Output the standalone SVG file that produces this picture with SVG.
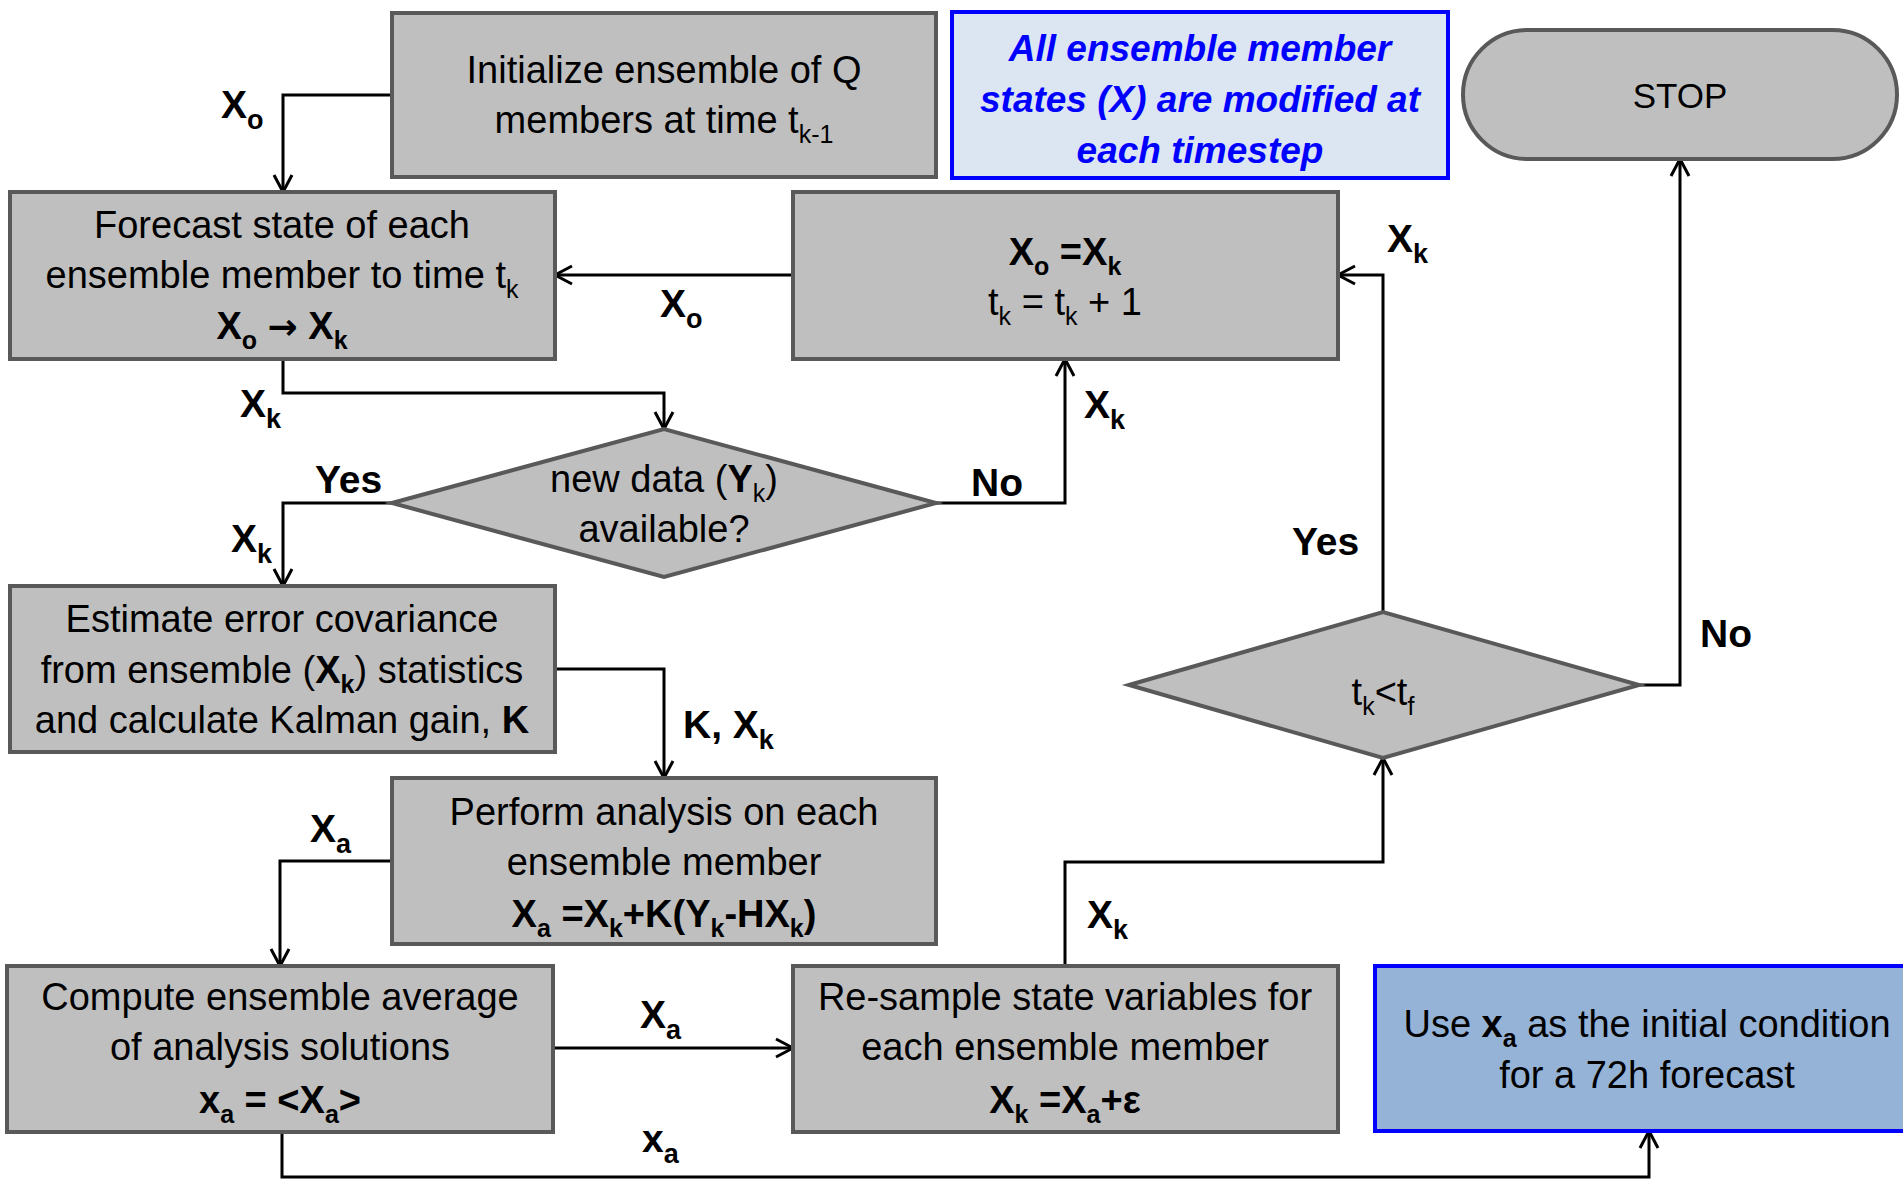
<svg xmlns="http://www.w3.org/2000/svg" width="1903" height="1182" viewBox="0 0 1903 1182">
<style>
.box{fill:#BFBFBF;stroke:#595959;stroke-width:4}
.t{font-family:"Liberation Sans",Arial,sans-serif;font-size:38px;fill:#000;text-anchor:middle}
.b{font-weight:bold}
.s{font-size:25px}
.ls{font-size:27px}
.lbl{font-family:"Liberation Sans",Arial,sans-serif;font-size:39px;font-weight:bold;fill:#000}
.note{font-family:"Liberation Sans",Arial,sans-serif;font-size:37px;font-weight:bold;font-style:italic;fill:#0000FF;text-anchor:middle}
.conn{fill:none;stroke:#000;stroke-width:3}
</style>
<defs>
<marker id="arr" markerUnits="userSpaceOnUse" markerWidth="24" markerHeight="24" viewBox="0 0 24 24" refX="19" refY="12" orient="auto">
<path d="M2,3 L19,12 L2,21" fill="none" stroke="#000" stroke-width="3"/>
</marker>
</defs>
<rect width="1903" height="1182" fill="#fff"/>

<g id="connectors">
<path class="conn" d="M392,95 H283 V192" marker-end="url(#arr)"/>
<path class="conn" d="M793,275 H555" marker-end="url(#arr)"/>
<path class="conn" d="M283,359 V393 H664 V429" marker-end="url(#arr)"/>
<path class="conn" d="M392,503 H283 V586" marker-end="url(#arr)"/>
<path class="conn" d="M936,503 H1065 V359" marker-end="url(#arr)"/>
<path class="conn" d="M555,669 H664 V778" marker-end="url(#arr)"/>
<path class="conn" d="M392,861 H280 V966" marker-end="url(#arr)"/>
<path class="conn" d="M553,1048 H793" marker-end="url(#arr)"/>
<path class="conn" d="M282,1132 V1177 H1649 V1131" marker-end="url(#arr)"/>
<path class="conn" d="M1065,966 V862 H1383 V758" marker-end="url(#arr)"/>
<path class="conn" d="M1383,612 V275 H1338" marker-end="url(#arr)"/>
<path class="conn" d="M1639,685 H1680 V159" marker-end="url(#arr)"/>
</g>

<g id="labels">
<text class="lbl" x="221" y="118">X<tspan class="ls" dy="11">o</tspan></text>
<text class="lbl" x="660" y="317">X<tspan class="ls" dy="11">o</tspan></text>
<text class="lbl" x="240" y="417">X<tspan class="ls" dy="11">k</tspan></text>
<text class="lbl" x="315" y="493">Yes</text>
<text class="lbl" x="231" y="552">X<tspan class="ls" dy="11">k</tspan></text>
<text class="lbl" x="971" y="496">No</text>
<text class="lbl" x="1084" y="418">X<tspan class="ls" dy="11">k</tspan></text>
<text class="lbl" x="1387" y="252">X<tspan class="ls" dy="11">k</tspan></text>
<text class="lbl" x="1292" y="555">Yes</text>
<text class="lbl" x="1700" y="647">No</text>
<text class="lbl" x="683" y="738">K, X<tspan class="ls" dy="11">k</tspan></text>
<text class="lbl" x="310" y="842">X<tspan class="ls" dy="11">a</tspan></text>
<text class="lbl" x="640" y="1028">X<tspan class="ls" dy="11">a</tspan></text>
<text class="lbl" x="642" y="1152">x<tspan class="ls" dy="11">a</tspan></text>
<text class="lbl" x="1087" y="928">X<tspan class="ls" dy="11">k</tspan></text>
</g>

<g id="init">
<rect class="box" x="392" y="13" width="544" height="164"/>
<text class="t" x="664" y="83">Initialize ensemble of Q</text>
<text class="t" x="664" y="133">members at time t<tspan class="s" dy="10">k-1</tspan></text>
</g>

<g id="note">
<rect x="952" y="12" width="496" height="166" fill="#DCE6F2" stroke="#0000FF" stroke-width="4"/>
<text class="note" x="1200" y="61">All ensemble member</text>
<text class="note" x="1200" y="112">states (X) are modified at</text>
<text class="note" x="1200" y="163">each timestep</text>
</g>

<g id="stop">
<rect class="box" x="1463" y="30" width="434" height="129" rx="64.5" ry="64.5"/>
<text class="t" x="1680" y="108" style="font-size:35px">STOP</text>
</g>

<g id="forecast">
<rect class="box" x="10" y="192" width="545" height="167"/>
<text class="t" x="282" y="238">Forecast state of each</text>
<text class="t" x="282" y="288">ensemble member to time t<tspan class="s" dy="10">k</tspan></text>
<text class="t b" x="282" y="339">X<tspan class="s" dy="10">o</tspan><tspan dy="-10"> </tspan><tspan style="font-family:'DejaVu Sans',sans-serif;font-size:36px">→</tspan><tspan> X</tspan><tspan class="s" dy="10">k</tspan></text>
</g>

<g id="update">
<rect class="box" x="793" y="192" width="545" height="167"/>
<text class="t b" x="1065" y="265">X<tspan class="s" dy="10">o</tspan><tspan dy="-10"> =X</tspan><tspan class="s" dy="10">k</tspan></text>
<text class="t" x="1065" y="315">t<tspan class="s" dy="10">k</tspan><tspan dy="-10"> = t</tspan><tspan class="s" dy="10">k</tspan><tspan dy="-10"> + 1</tspan></text>
</g>

<g id="newdata">
<polygon class="box" points="392,503 664,429 936,503 664,577"/>
<text class="t" x="664" y="492">new data (<tspan class="b">Y</tspan><tspan class="s" dy="10">k</tspan><tspan dy="-10">)</tspan></text>
<text class="t" x="664" y="542">available?</text>
</g>

<g id="estimate">
<rect class="box" x="10" y="586" width="545" height="166"/>
<text class="t" x="282" y="632">Estimate error covariance</text>
<text class="t" x="282" y="683">from ensemble (<tspan class="b">X</tspan><tspan class="s b" dy="10">k</tspan><tspan dy="-10">) statistics</tspan></text>
<text class="t" x="282" y="733">and calculate Kalman gain, <tspan class="b">K</tspan></text>
</g>

<g id="analysis">
<rect class="box" x="392" y="778" width="544" height="166"/>
<text class="t" x="664" y="825">Perform analysis on each</text>
<text class="t" x="664" y="875">ensemble member</text>
<text class="t b" x="664" y="927">X<tspan class="s" dy="10">a</tspan><tspan dy="-10"> =X</tspan><tspan class="s" dy="10">k</tspan><tspan dy="-10">+K(Y</tspan><tspan class="s" dy="10">k</tspan><tspan dy="-10">-HX</tspan><tspan class="s" dy="10">k</tspan><tspan dy="-10">)</tspan></text>
</g>

<g id="average">
<rect class="box" x="7" y="966" width="546" height="166"/>
<text class="t" x="280" y="1010">Compute ensemble average</text>
<text class="t" x="280" y="1060">of analysis solutions</text>
<text class="t b" x="280" y="1113">x<tspan class="s" dy="10">a</tspan><tspan dy="-10"> = &lt;X</tspan><tspan class="s" dy="10">a</tspan><tspan dy="-10">&gt;</tspan></text>
</g>

<g id="resample">
<rect class="box" x="793" y="966" width="545" height="166"/>
<text class="t" x="1065" y="1010">Re-sample state variables for</text>
<text class="t" x="1065" y="1060">each ensemble member</text>
<text class="t b" x="1065" y="1113">X<tspan class="s" dy="10">k</tspan><tspan dy="-10"> =X</tspan><tspan class="s" dy="10">a</tspan><tspan dy="-10">+ε</tspan></text>
</g>

<g id="check">
<polygon class="box" points="1129,685 1383,612 1639,685 1383,758"/>
<text class="t" x="1383" y="705">t<tspan class="s" dy="10">k</tspan><tspan dy="-10">&lt;t</tspan><tspan class="s" dy="10">f</tspan></text>
</g>

<g id="use">
<rect x="1375" y="966" width="540" height="165" fill="#95B3D7" stroke="#0000FF" stroke-width="4"/>
<text class="t" x="1647" y="1037">Use <tspan class="b">x</tspan><tspan class="s b" dy="10">a</tspan><tspan dy="-10"> as the initial condition</tspan></text>
<text class="t" x="1647" y="1088">for a 72h forecast</text>
</g>
</svg>
